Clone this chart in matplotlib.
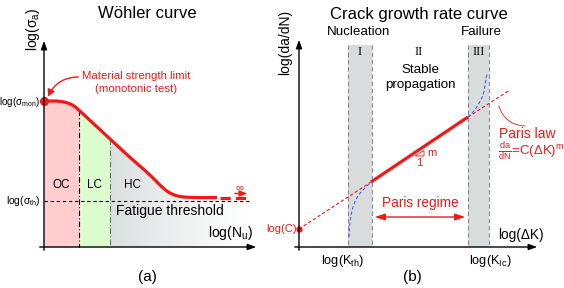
import numpy as np
import matplotlib
matplotlib.use("Agg")
import matplotlib.pyplot as plt
from matplotlib.patches import Rectangle, Polygon, FancyArrowPatch

plt.rcParams['font.family'] = ['Liberation Sans', 'DejaVu Sans']
plt.rcParams['mathtext.fontset'] = 'custom'
plt.rcParams['mathtext.rm'] = 'Liberation Sans'
plt.rcParams['mathtext.it'] = 'Liberation Sans:italic'
plt.rcParams['mathtext.bf'] = 'Liberation Sans:bold'

# ---------------- data (schematic, in figure pixel units) ----------------
# Panel (a) Woehler curve
wohler_logN = [44, 56, 66, 74, 82, 95, 110, 125, 140, 152, 162, 170, 180, 195, 217]
wohler_logS = [101, 101, 102.5, 106, 113, 125, 139, 153, 166, 177, 187, 193, 196.5, 197.5, 197.5]
regime_edges = [44, 79, 110, 255]
regime_labels = ['OC', 'LC', 'HC']
regime_colors = ['#ffcdcd', '#dcfccf', '#dadfdf']
sigma_mon = 101
sigma_th = 201

# Panel (b) crack growth
band_I = [348, 372]
band_III = [468, 489]
band_labels = ['I', 'II', 'III']
paris_logK = [299, 371, 468, 510]
paris_rate = [229, 182, 117, 90]
nucl_logK = [349, 350, 353, 358, 364, 371]
nucl_rate = [237, 222, 207, 196, 189, 182]
fail_logK = [468, 473, 478, 483, 485, 487]
fail_rate = [117, 112, 105, 95, 85, 73]

RED = '#f01818'
BLUE = '#4a62e0'
BAND = '#d8dcdc'


def smooth(xs, ys, n=20):
    xs = np.asarray(xs, float); ys = np.asarray(ys, float)
    P = np.column_stack([xs, ys])
    P = np.vstack([P[0], P, P[-1]])
    out = []
    for i in range(1, len(P) - 2):
        p0, p1, p2, p3 = P[i - 1], P[i], P[i + 1], P[i + 2]
        t = np.linspace(0, 1, n, endpoint=False)[:, None]
        pts = 0.5 * ((2 * p1) + (-p0 + p2) * t + (2 * p0 - 5 * p1 + 4 * p2 - p3) * t ** 2
                     + (-p0 + 3 * p1 - 3 * p2 + p3) * t ** 3)
        out.append(pts)
    out.append(P[-2][None, :])
    out = np.vstack(out)
    return out[:, 0], out[:, 1]


fig = plt.figure(figsize=(5.64, 2.88), dpi=100)
ax = fig.add_axes([0, 0, 1, 1])
ax.set_xlim(0, 564)
ax.set_ylim(288, 0)
ax.axis('off')

# ================= Panel (a) =================
cx, cy = smooth(wohler_logN, wohler_logS)
x_axis_a = 247
fx = np.append(cx, regime_edges[-1])
fy = np.append(cy, cy[-1])

for i in range(2):
    x0, x1 = regime_edges[i], regime_edges[i + 1]
    m = (fx >= x0) & (fx <= x1)
    xx = np.concatenate([[x0], fx[m], [x1]])
    yy = np.concatenate([[np.interp(x0, fx, fy)], fy[m], [np.interp(x1, fx, fy)]])
    ax.fill_between(xx, yy, x_axis_a, color=regime_colors[i], lw=0, zorder=1)

# HC gradient region
x0, x1 = regime_edges[2], regime_edges[3]
m = (fx >= x0) & (fx <= x1)
xx = np.concatenate([[x0], fx[m], [x1]])
yy = np.concatenate([[np.interp(x0, fx, fy)], fy[m], [np.interp(x1, fx, fy)]])
poly_pts = np.column_stack([np.concatenate([xx, [x1, x0]]), np.concatenate([yy, [x_axis_a, x_axis_a]])])
clip = Polygon(poly_pts, closed=True, facecolor='none', edgecolor='none', transform=ax.transData)
ax.add_patch(clip)
grad = np.zeros((2, 256, 4))
base = np.array([0.855, 0.875, 0.875])
a = np.linspace(1, 0, 256) ** 1.2
grad[..., :3] = base
grad[..., 3] = a
im = ax.imshow(grad, extent=[x0, x1, x_axis_a, 130], aspect='auto', zorder=1,
               interpolation='bilinear')
im.set_clip_path(clip)
ax.set_xlim(0, 564); ax.set_ylim(288, 0)

# regime separators
ax.plot([79, 79], [np.interp(79, cx, cy), x_axis_a], color='black', lw=0.8,
        dashes=(5, 2, 1, 2), zorder=2)
ax.plot([110, 110], [np.interp(110, cx, cy), x_axis_a], color='#707070', lw=0.8,
        dashes=(5, 2, 1, 2), zorder=2)

# threshold line
ax.plot([44, 250], [sigma_th, sigma_th], color='black', lw=0.8, dashes=(3, 2.5), zorder=2)

# Woehler curve
ax.plot(cx, cy, color=RED, lw=2.3, solid_capstyle='butt', zorder=4)
ax.plot([220, 250], [197.5, 197.5], color=RED, lw=2.3, dashes=(3.2, 1.6), zorder=4)
ax.annotate('', xy=(250, 193.5), xytext=(232, 193.5),
            arrowprops=dict(arrowstyle='-|>,head_length=0.45,head_width=0.18', color=RED, lw=1.0),
            zorder=4)
ax.text(239, 187, '∞', color=RED, fontsize=8, ha='center', va='center')
ax.plot([44], [sigma_mon], 'o', color=RED, ms=5.5, zorder=5)

# axes
ax.annotate('', xy=(44, 38), xytext=(44, 253),
            arrowprops=dict(arrowstyle='-|>,head_length=0.5,head_width=0.18', color='black', lw=1.0),
            zorder=6)
ax.annotate('', xy=(259, x_axis_a), xytext=(37, x_axis_a),
            arrowprops=dict(arrowstyle='-|>,head_length=0.5,head_width=0.18', color='black', lw=1.0),
            zorder=6)

# texts
ax.text(147, 14, 'Wöhler curve', fontsize=12, ha='center', va='center')
ax.text(33, 29, 'log(σ$_{\\mathrm{a}}$)', fontsize=10, rotation=90, ha='center', va='center')
ax.text(40.5, 102, 'log(σ$_{\\mathrm{mon}}$)', fontsize=7.1, ha='right', va='center')
ax.text(40.5, 201, 'log(σ$_{\\mathrm{th}}$)', fontsize=7.4, ha='right', va='center')
ax.text(136, 76, 'Material strength limit', fontsize=8.2, color=RED, ha='center', va='center')
ax.text(136, 89, '(monotonic test)', fontsize=8.2, color=RED, ha='center', va='center')
arr = FancyArrowPatch((81, 77), (47, 99), connectionstyle='arc3,rad=0.35',
                      arrowstyle='-|>,head_length=4,head_width=2.2', color=RED, lw=1.0, zorder=6)
ax.add_patch(arr)
for lab, x0_, x1_ in zip(regime_labels, regime_edges[:-1], [79, 110, 155]):
    ax.text((x0_ + x1_) / 2, 185, lab, fontsize=8.5, ha='center', va='center')
ax.text(116, 211, 'Fatigue threshold', fontsize=10, ha='left', va='center')
ax.text(253, 233, 'log(N$_{\\mathrm{u}}$)', fontsize=10, ha='right', va='center')
ax.text(147, 277, '(a)', fontsize=11, ha='center', va='center')

# ================= Panel (b) =================
x_axis_b = 247
for (b0, b1) in (band_I, band_III):
    ax.add_patch(Rectangle((b0, 45), b1 - b0, x_axis_b - 45, facecolor=BAND, edgecolor='none', zorder=1))
    for xb in (b0, b1):
        ax.plot([xb, xb], [45, x_axis_b], color='#8a8a8a', lw=0.8, dashes=(4, 2.5), zorder=2)

# Paris line
ax.plot(paris_logK[:2], paris_rate[:2], color=RED, lw=0.8, dashes=(3, 2), zorder=3)
ax.plot(paris_logK[1:3], paris_rate[1:3], color=RED, lw=2.3, solid_capstyle='butt', zorder=4)
ax.plot(paris_logK[2:], paris_rate[2:], color=RED, lw=0.8, dashes=(3, 2), zorder=3)

# blue real curves
bx, by = smooth(nucl_logK, nucl_rate)
ax.plot(bx, by, color=BLUE, lw=0.8, dashes=(3, 2), zorder=3)
bx, by = smooth(fail_logK, fail_rate)
ax.plot(bx, by, color=BLUE, lw=0.8, dashes=(3, 2), zorder=3)

ax.plot([299], [229], 'o', color=RED, ms=3.5, zorder=6)

# axes
ax.annotate('', xy=(299, 37), xytext=(299, 253),
            arrowprops=dict(arrowstyle='-|>,head_length=0.5,head_width=0.18', color='black', lw=1.0),
            zorder=6)
ax.annotate('', xy=(540, x_axis_b), xytext=(292, x_axis_b),
            arrowprops=dict(arrowstyle='-|>,head_length=0.5,head_width=0.18', color='black', lw=1.0),
            zorder=6)

# slope triangle
ax.add_patch(Polygon([(415, 156), (424, 156), (424, 150.5)], closed=True, facecolor='none',
                     edgecolor=RED, lw=0.6, zorder=5))
ax.text(427, 153, 'm', fontsize=8, color=RED, ha='left', va='center')
ax.text(419.5, 163, '1', fontsize=8, color=RED, ha='center', va='center')

# Paris regime arrow
ax.annotate('', xy=(372, 217), xytext=(468, 217),
            arrowprops=dict(arrowstyle='<|-|>,head_length=0.6,head_width=0.2', color=RED, lw=1.0),
            zorder=6)
ax.text(420, 203, 'Paris regime', fontsize=9.8, color=RED, ha='center', va='center')

# Paris law pointer
ptr = FancyArrowPatch((528, 126), (498, 103), connectionstyle='arc3,rad=-0.4',
                      arrowstyle='-', color=RED, lw=0.6, zorder=5)
ax.add_patch(ptr)
ax.text(499, 134, 'Paris law', fontsize=10, color=RED, ha='left', va='center')
ax.text(498, 152, r'$\frac{\mathrm{da}}{\mathrm{dN}}$=C(ΔK)$^{\mathrm{m}}$', fontsize=9.5,
        color=RED, ha='left', va='center')

# texts
ax.text(419, 14, 'Crack growth rate curve', fontsize=12, ha='center', va='center')
ax.text(285, 42, 'log(da/dN)', fontsize=10, rotation=90, ha='center', va='center')
ax.text(359, 32, 'Nucleation', fontsize=9.6, ha='center', va='center')
ax.text(481, 32, 'Failure', fontsize=9.6, ha='center', va='center')
for lab, xl in zip(band_labels, [360, 419, 478.5]):
    ax.text(xl, 52, lab, fontsize=9, ha='center', va='center', family=['Liberation Serif'])
ax.text(420, 70, 'Stable', fontsize=9.6, ha='center', va='center')
ax.text(420, 85, 'propagation', fontsize=9.6, ha='center', va='center')
ax.text(498, 235, 'log(ΔK)', fontsize=9.8, ha='left', va='center')
ax.text(343, 261, 'log(K$_{\\mathrm{th}}$)', fontsize=9.2, ha='center', va='center')
ax.text(490, 261, 'log(K$_{\\mathrm{Ic}}$)', fontsize=9.2, ha='center', va='center')
ax.text(297, 229, 'log(C)', fontsize=8, color=RED, ha='right', va='center')
ax.text(412, 277, '(b)', fontsize=11, ha='center', va='center')

fig.savefig('out.png', dpi=100)
